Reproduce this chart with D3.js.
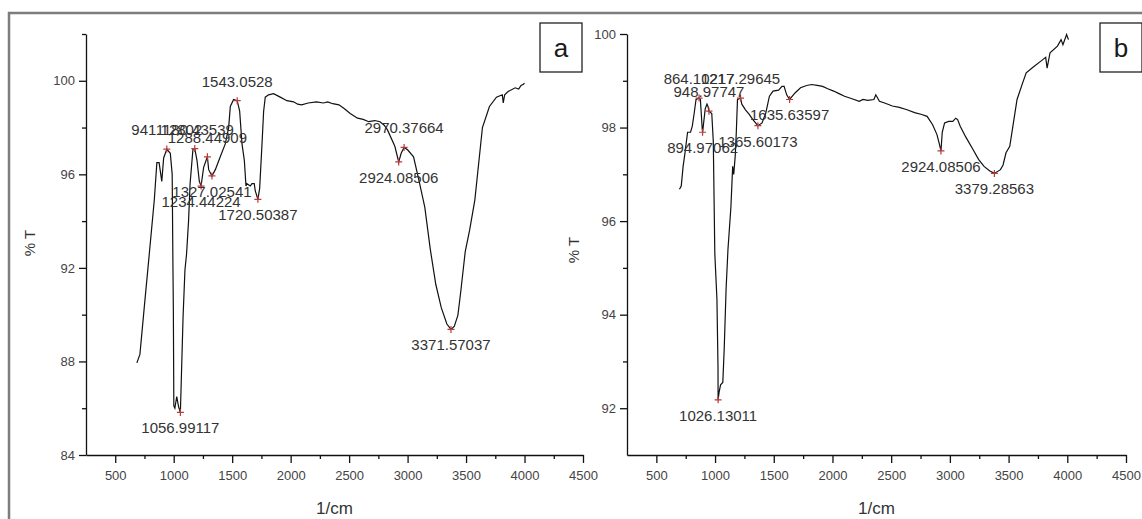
<!DOCTYPE html>
<html>
<head>
    <script src="https://cdn.jsdelivr.net/npm/d3@7"></script>
    <style>
        body { margin: 0; background: #fff; }
        text { font-family: "Liberation Sans", Arial, sans-serif; }
    </style>
</head>

<body>
<div id="chart"></div>

<script>

    // ---- data: panel a ----
    var waveA = [685, 711, 748, 780, 834, 856, 875, 898, 914, 941, 971, 987, 993, 997, 1001, 1010, 1026, 1042, 1057,
        1064, 1080, 1096, 1110, 1127, 1140, 1165, 1180, 1199, 1219, 1234, 1256, 1288, 1299, 1327, 1356, 1398, 1441,
        1470, 1484, 1512, 1543, 1564, 1584, 1604, 1618, 1626, 1655, 1669, 1689, 1697, 1720, 1735, 1755, 1769, 1783,
        1811, 1854, 1911, 1968, 2025, 2060, 2094, 2150, 2221, 2280, 2317, 2360, 2413, 2460, 2509, 2572, 2620, 2668,
        2720, 2764, 2800, 2828, 2891, 2924, 2945, 2970, 3000, 3051, 3099, 3147, 3194, 3241, 3288, 3336, 3371, 3399,
        3430, 3455, 3493, 3530, 3575, 3640, 3700, 3760, 3810, 3818, 3830, 3860, 3920, 3950, 3970, 3990, 4000];
    var transA = [87.94, 88.3, 90.3, 92.0, 94.9, 96.5, 96.5, 95.7, 96.7, 97.08, 96.9, 96.0, 92.3, 90.2, 86.1, 86.0, 86.5,
        86.06, 85.82, 87.05, 89.9, 91.9, 92.6, 94.0, 95.6, 97.1, 97.1, 96.6, 95.7, 95.5, 96.3, 96.75, 96.2, 95.93, 96.2,
        96.75, 97.3, 98.0, 98.9, 99.2, 99.15, 98.7, 97.3, 96.6, 95.5, 95.6, 95.5, 95.6, 95.6, 95.3, 94.93, 95.4, 97.3,
        98.7, 99.3, 99.4, 99.45, 99.3, 99.15, 99.1, 99.0, 98.97, 99.05, 99.1, 99.05, 99.1, 99.02, 98.97, 98.8, 98.6,
        98.4, 98.35, 98.25, 98.3, 98.25, 98.1, 97.9, 97.2, 96.53, 96.9, 97.15, 97.05, 96.75, 95.7, 94.6, 92.8, 91.3,
        90.3, 89.6, 89.37, 89.5, 89.97, 91.0, 92.7, 93.6, 94.9, 98.0, 98.9, 99.3, 99.4, 99.05, 99.4, 99.54, 99.7,
        99.65, 99.8, 99.85, 99.9];

    var peakWaveA = [941, 1180, 1057, 1234, 1288, 1327, 1543, 1720, 2924, 2970, 3371];
    var peakTransA = [97.08, 97.1, 85.82, 95.5, 96.75, 95.93, 99.15, 94.93, 96.53, 97.15, 89.37];
    var peakLabelA = ["941.12802", "1180.43539", "1056.99117", "1234.44224", "1288.44909", "1327.02541",
        "1543.0528", "1720.50387", "2924.08506", "2970.37664", "3371.57037"];
    var peakSideA = ["up", "up", "down", "down", "up", "down", "up", "down", "down", "up", "down"];

    // ---- data: panel b ----
    var waveB = [697, 712, 728, 744, 766, 791, 806, 822, 838, 864, 875, 891, 894, 916, 931, 940, 948, 972, 985, 998,
        1016, 1025, 1026, 1034, 1047, 1066, 1078, 1094, 1110, 1135, 1150, 1159, 1172, 1181, 1191, 1217, 1228, 1259,
        1291, 1322, 1365, 1400, 1431, 1463, 1494, 1541, 1570, 1588, 1610, 1635, 1681, 1728, 1780, 1822, 1870, 1916,
        1960, 2010, 2060, 2103, 2160, 2228, 2260, 2300, 2353, 2369, 2400, 2450, 2510, 2570, 2635, 2700, 2760, 2806,
        2853, 2890, 2910, 2924, 2935, 2955, 2990, 3025, 3050, 3066, 3088, 3135, 3197, 3244, 3291, 3340, 3379, 3431,
        3453, 3478, 3510, 3541, 3572, 3619, 3650, 3713, 3775, 3816, 3828, 3853, 3916, 3947, 3963, 3994, 4010];
    var transB = [96.68, 96.75, 97.17, 97.46, 97.9, 97.9, 98.03, 98.3, 98.6, 98.63, 98.6, 97.96, 97.9, 98.4, 98.5,
        98.45, 98.35, 98.3, 97.7, 95.3, 94.33, 92.9, 92.18, 92.34, 92.5, 92.55, 93.27, 94.55, 95.4, 96.3, 97.17, 97.0,
        97.4, 97.9, 98.6, 98.63, 98.5, 98.38, 98.28, 98.17, 98.04, 98.1, 98.3, 98.67, 98.78, 98.8, 98.88, 98.88, 98.7,
        98.6, 98.74, 98.85, 98.9, 98.92, 98.9, 98.88, 98.83, 98.78, 98.72, 98.67, 98.62, 98.56, 98.6, 98.58, 98.6,
        98.7, 98.56, 98.52, 98.46, 98.43, 98.38, 98.32, 98.28, 98.24, 98.06, 97.85, 97.65, 97.5, 97.9, 98.1, 98.13,
        98.13, 98.2, 98.17, 98.03, 97.8, 97.53, 97.32, 97.17, 97.07, 97.02, 97.1, 97.2, 97.46, 97.6, 98.1, 98.6, 98.95,
        99.17, 99.3, 99.42, 99.5, 99.27, 99.6, 99.74, 99.88, 99.77, 99.99, 99.88];

    var peakWaveB = [864, 1217, 948, 894, 1026, 1365, 1635, 2924, 3379];
    var peakTransB = [98.63, 98.63, 98.35, 97.9, 92.18, 98.04, 98.6, 97.5, 97.02];
    var peakLabelB = ["864.10217", "1217.29645", "948.97747", "894.97062", "1026.13011", "1365.60173",
        "1635.63597", "2924.08506", "3379.28563"];
    var peakSideB = ["up", "up", "up", "down", "down", "down", "down", "down", "down"];

    // ---- ticks ----
    var xTicks = [500, 1000, 1500, 2000, 2500, 3000, 3500, 4000, 4500];
    var xMinor = [750, 1250, 1750, 2250, 2750, 3250, 3750, 4250];
    var yTicksA = [84, 88, 92, 96, 100];
    var yMinorA = [86, 90, 94, 98, 102];
    var yTicksB = [92, 94, 96, 98, 100];
    var yMinorB = [93, 95, 97, 99];

    var width = 1142;
    var height = 519;

    var svg = d3.select('#chart').append('svg')
        .attr('width', width)
        .attr('height', height);

    // outer frame (runs off right and bottom edge)
    svg.append('rect')
        .attr('x', 9)
        .attr('y', 13)
        .attr('width', 1150)
        .attr('height', 520)
        .attr('fill', 'none')
        .attr('stroke', '#7d7d7d')
        .attr('stroke-width', 2.5);

    function drawPanel(p) {
        var x = d3.scaleLinear().domain([250, 4500]).range([p.left, p.right]);
        var y = d3.scaleLinear().domain(p.yDomain).range([455, 34]);

        var g = svg.append('g');

        // minor ticks
        g.append('g')
            .attr('transform', 'translate(0,455)')
            .call(d3.axisBottom(x).tickValues(xMinor).tickSize(4).tickFormat(''))
            .call(function(s) { s.select('.domain').remove(); });
        g.append('g')
            .attr('transform', 'translate(' + p.left + ',0)')
            .call(d3.axisLeft(y).tickValues(p.yMinor).tickSize(4).tickFormat(''))
            .call(function(s) { s.select('.domain').remove(); });

        // major axes
        g.append('g')
            .attr('transform', 'translate(0,455)')
            .call(d3.axisBottom(x).tickValues(xTicks).tickSize(8).tickSizeOuter(0).tickPadding(8).tickFormat(d3.format('d')));
        g.append('g')
            .attr('transform', 'translate(' + p.left + ',0)')
            .call(d3.axisLeft(y).tickValues(p.yTicks).tickSize(7).tickSizeOuter(0).tickPadding(4).tickFormat(d3.format('d')));

        g.selectAll('.tick text')
            .attr('fill', '#444')
            .style('font-size', '13px')
            .style('font-family', '"Liberation Sans", Arial, sans-serif');
        g.selectAll('.domain, .tick line')
            .attr('stroke', '#111')
            .attr('stroke-width', 1.3);

        // axis titles
        g.append('text')
            .attr('x', (p.left + p.right) / 2)
            .attr('y', 514)
            .attr('text-anchor', 'middle')
            .attr('fill', '#333')
            .style('font-size', '17px')
            .text('1/cm');
        g.append('text')
            .attr('transform', 'translate(' + p.yTitleX + ',' + p.yTitleY + ') rotate(-90)')
            .attr('text-anchor', 'middle')
            .attr('fill', '#333')
            .style('font-size', '15px')
            .text('% T');

        // spectrum
        var line = d3.line()
            .x(function(d) { return x(d[0]); })
            .y(function(d) { return y(d[1]); });

        g.append('path')
            .datum(d3.zip(p.wave, p.trans))
            .attr('d', line)
            .attr('fill', 'none')
            .attr('stroke', '#111')
            .attr('stroke-width', 1.2);

        // peak markers + labels
        var peaks = p.peakWave.map(function(w, i) {
            return { w: w, t: p.peakTrans[i], label: p.peakLabel[i], side: p.peakSide[i] };
        });

        var pk = g.selectAll('.peak')
            .data(peaks)
            .enter()
            .append('g')
            .attr('class', 'peak')
            .attr('transform', function(d) { return 'translate(' + x(d.w) + ',' + y(d.t) + ')'; });

        pk.append('path')
            .attr('d', 'M-3.5,0H3.5M0,-3.5V3.5')
            .attr('stroke', '#b83a3a')
            .attr('stroke-width', 1.2);

        pk.append('text')
            .attr('y', function(d) { return d.side == 'up' ? -14 : 21; })
            .attr('text-anchor', 'middle')
            .attr('fill', '#333')
            .style('font-size', '15px')
            .text(function(d) { return d.label; });

        // panel letter
        g.append('rect')
            .attr('x', p.boxX)
            .attr('y', 23)
            .attr('width', 42)
            .attr('height', 49)
            .attr('fill', '#fff')
            .attr('stroke', '#222')
            .attr('stroke-width', 1.3);
        g.append('text')
            .attr('x', p.boxX + 21)
            .attr('y', 57)
            .attr('text-anchor', 'middle')
            .attr('fill', '#1a1a1a')
            .style('font-size', '26px')
            .text(p.letter);
    }

    drawPanel({
        left: 86, right: 583, yDomain: [84, 102],
        yTicks: yTicksA, yMinor: yMinorA,
        wave: waveA, trans: transA,
        peakWave: peakWaveA, peakTrans: peakTransA, peakLabel: peakLabelA, peakSide: peakSideA,
        yTitleX: 35, yTitleY: 243, boxX: 540, letter: 'a'
    });

    drawPanel({
        left: 627, right: 1126, yDomain: [91, 100],
        yTicks: yTicksB, yMinor: yMinorB,
        wave: waveB, trans: transB,
        peakWave: peakWaveB, peakTrans: peakTransB, peakLabel: peakLabelB, peakSide: peakSideB,
        yTitleX: 579, yTitleY: 250, boxX: 1100, letter: 'b'
    });

</script>
</body>
</html>
